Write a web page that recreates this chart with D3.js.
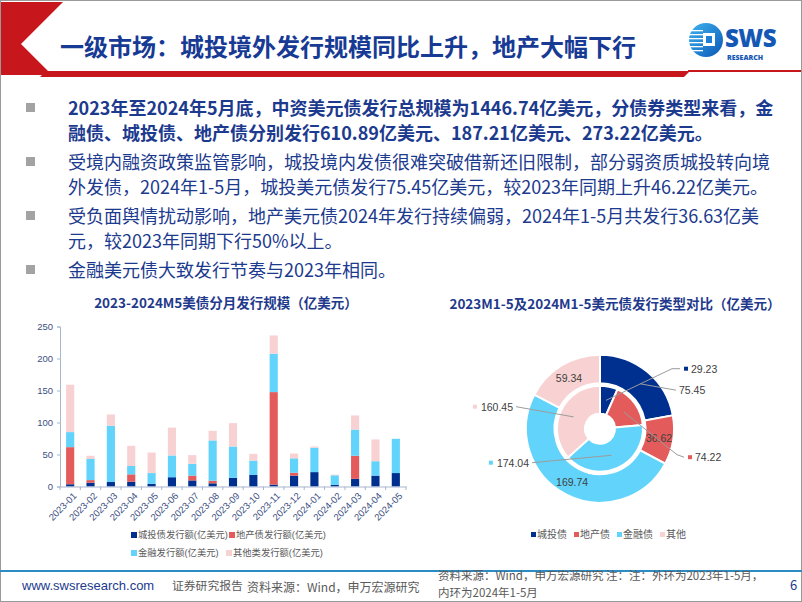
<!DOCTYPE html>
<html><head><meta charset="utf-8">
<script src="https://cdn.jsdelivr.net/npm/d3@7/dist/d3.min.js"></script>
<style>
html,body{margin:0;padding:0;background:#fff;}
svg{display:block;font-family:"Noto Sans CJK SC","Noto Sans",sans-serif;}
</style></head>
<body>
<svg id="c" width="802" height="602"></svg>
<script>
// ---------- DATA ----------
const months = ["2023-01","2023-02","2023-03","2023-04","2023-05","2023-06","2023-07","2023-08","2023-09","2023-10","2023-11","2023-12","2024-01","2024-02","2024-03","2024-04","2024-05"];
const chengtou = [3.5,6,7,7.5,4,14.5,9.5,5,13.5,18,3,17,22.5,2.5,12,17,21];
const dichan   = [58,4,0,11.5,0,0,7.5,4,0,0,144.5,4.5,0,0,36,0,0];
const jinrong  = [23.5,33,88,13,17,34,18.5,63,49,22.5,60,22.5,38,15,41,22.5,53.5];
const qita     = [74,5,17.5,31.5,32,43.5,13.5,15,36.5,10.5,28.5,7.5,2,1,22,34,0];
const yTicks = [0,50,100,150,200,250];
const barSeries = ["城投债发行额(亿美元)","地产债发行额(亿美元)","金融发行额(亿美元)","其他类发行额(亿美元)"];

const types = ["城投债","地产债","金融债","其他"];
const outerRing = [75.45,36.62,169.74,59.34];   // outer ring
const innerRing = [29.23,74.22,174.04,160.45];  // inner ring

const title = "一级市场：城投境外发行规模同比上升，地产大幅下行";
const bullets = [
  {bold:true, lines:["2023年至2024年5月底，中资美元债发行总规模为1446.74亿美元，分债券类型来看，金","融债、城投债、地产债分别发行610.89亿美元、187.21亿美元、273.22亿美元。"]},
  {bold:false, lines:["受境内融资政策监管影响，城投境内发债很难突破借新还旧限制，部分弱资质城投转向境","外发债，2024年1-5月，城投美元债发行75.45亿美元，较2023年同期上升46.22亿美元。"]},
  {bold:false, lines:["受负面舆情扰动影响，地产美元债2024年发行持续偏弱，2024年1-5月共发行36.63亿美","元，较2023年同期下行50%以上。"]},
  {bold:false, lines:["金融美元债大致发行节奏与2023年相同。"]}
];

// ---------- STYLE ----------
const colors = ["#00308f","#e35b5b","#62d3fb","#f8d1d2"];
const navyText = "#1c3a8e";
const svg = d3.select("#c");

// slide border
svg.append("rect").attr("x",0.5).attr("y",0.5).attr("width",801).attr("height",601)
  .attr("fill","none").attr("stroke","#9a9a9a");

// header decoration
svg.append("path").attr("d","M1,2 L63,2 L21,44 L52,75 L1,75 Z").attr("fill","#c8161d");
svg.append("path").attr("d","M46,71 L690,71 L684,77 L40,77 Z").attr("fill","#c8161d");
svg.append("rect").attr("x",688).attr("y",70).attr("width",113).attr("height",2).attr("fill","#c8161d");

svg.append("text").attr("x",60).attr("y",56).attr("font-size",24).attr("font-weight",700)
  .attr("fill","#173a94").text(title);

// logo
const lg = svg.append("g");
const grad = svg.append("defs").append("linearGradient").attr("id","lgg").attr("x1","0").attr("y1","0").attr("x2","1").attr("y2","1");
grad.append("stop").attr("offset","0").attr("stop-color","#3fb4ee");
grad.append("stop").attr("offset","1").attr("stop-color","#0b57b8");
lg.append("circle").attr("cx",706).attr("cy",40).attr("r",17).attr("fill","url(#lgg)");
[30,34,38,42,46,50].forEach(y=>lg.append("rect").attr("x",689).attr("y",y).attr("width",14).attr("height",1.3).attr("fill","#fff"));
lg.append("rect").attr("x",703).attr("y",33).attr("width",12).attr("height",13).attr("fill","#fff");
lg.append("rect").attr("x",706).attr("y",36).attr("width",6).attr("height",7).attr("fill","#1f7fd6");
lg.append("text").attr("x",725).attr("y",47).attr("font-size",24).attr("font-weight",800)
  .attr("font-family","'Open Sans',Roboto,sans-serif").attr("fill","#1458b6").attr("letter-spacing",-0.5).text("SWS");
lg.append("text").attr("x",727).attr("y",59.5).attr("font-size",7).attr("font-weight",800)
  .attr("font-family","'Open Sans',Roboto,sans-serif").attr("fill","#1458b6").text("RESEARCH");

// bullets
let by = 108;
bullets.forEach((b,i)=>{
  svg.append("rect").attr("x",26).attr("y",by-5).attr("width",9).attr("height",9).attr("fill","#a3a3a3");
  b.lines.forEach((ln,j)=>{
    svg.append("text").attr("x",68).attr("y",by+6.5+j*25).attr("font-size",18)
      .attr("font-weight",b.bold?700:400).attr("fill",navyText).text(ln);
  });
  by += b.lines.length*25 + 4;
});

// ---------- BAR CHART ----------
const chartFont = "'Liberation Sans',Arial,'Noto Sans CJK SC',sans-serif";
svg.append("text").attr("x",226).attr("y",308).attr("text-anchor","middle").attr("font-size",13.5)
  .attr("font-weight",700).attr("fill","#1f3a8c").text("2023-2024M5美债分月发行规模（亿美元）");

const x = d3.scaleBand().domain(months).range([60,406]).paddingInner(0.6).paddingOuter(0.3);
const y = d3.scaleLinear().domain([0,250]).range([486.5,326.5]);

const rows = months.map((m,i)=>({month:m, s0:chengtou[i], s1:dichan[i], s2:jinrong[i], s3:qita[i]}));
const stack = d3.stack().keys(["s0","s1","s2","s3"])(rows);

const gBars = svg.append("g");
stack.forEach((layer,k)=>{
  gBars.selectAll(null).data(layer).enter().append("rect")
    .attr("x",d=>x(d.data.month)).attr("width",x.bandwidth())
    .attr("y",d=>y(d[1])).attr("height",d=>Math.max(0,y(d[0])-y(d[1])))
    .attr("fill",colors[k]);
});

const yAxis = svg.append("g").attr("transform","translate(60,0)")
  .call(d3.axisLeft(y).tickValues(yTicks).tickSize(3).tickPadding(4));
yAxis.select(".domain").attr("stroke","#a9b6cf");
yAxis.selectAll(".tick line").attr("stroke","#a9b6cf");
yAxis.selectAll("text").attr("font-size",9.5).attr("font-family",chartFont).attr("fill","#3d4f82");

const xAxis = svg.append("g").attr("transform","translate(0,486.5)")
  .call(d3.axisBottom(x).tickSize(0).tickSizeOuter(0));
xAxis.select(".domain").attr("stroke","#a9b6cf");
xAxis.selectAll(".tick text").attr("font-size",9.5).attr("font-family",chartFont).attr("fill","#3d4f82")
  .attr("text-anchor","end").attr("dy",0)
  .attr("transform",function(){return "translate(5,8) rotate(-45)";});
const bounds = months.map(m=>x(m)-x.step()*x.paddingInner()/2).concat([x(months[months.length-1])+x.bandwidth()+x.step()*x.paddingInner()/2]);
svg.append("g").selectAll(null).data(bounds).enter().append("line")
  .attr("x1",d=>d).attr("x2",d=>d).attr("y1",486.5).attr("y2",490).attr("stroke","#a9b6cf");

// bar legend
const legPos = [[131,538],[229,538],[131,556],[226,556]];
barSeries.forEach((s,k)=>{
  const [lx,ly]=legPos[k];
  svg.append("rect").attr("x",lx).attr("y",ly-6).attr("width",6).attr("height",6).attr("fill",colors[k]);
  svg.append("text").attr("x",lx+7).attr("y",ly).attr("font-size",9.3).attr("fill","#595959")
    .attr("font-family",chartFont).text(s);
});

// ---------- DONUT ----------
svg.append("text").attr("x",615).attr("y",309).attr("text-anchor","middle").attr("font-size",13.5)
  .attr("font-weight",700).attr("fill","#1f3a8c").text("2023M1-5及2024M1-5美元债发行类型对比（亿美元）");

const cx=600, cy=428.7;
const pie = d3.pie().sort(null).startAngle(0).endAngle(2*Math.PI);
const arcOut = d3.arc().innerRadius(45.5).outerRadius(74);
const arcIn  = d3.arc().innerRadius(15).outerRadius(43);
const gD = svg.append("g").attr("transform",`translate(${cx},${cy})`);
const pOut = pie(outerRing), pIn = pie(innerRing);
gD.selectAll(".o").data(pOut).enter().append("path").attr("d",arcOut)
  .attr("fill",(d,i)=>colors[i]).attr("stroke","#fff").attr("stroke-width",2);
gD.selectAll(".i").data(pIn).enter().append("path").attr("d",arcIn)
  .attr("fill",(d,i)=>colors[i]).attr("stroke","#fff").attr("stroke-width",2);

const lblFont = 10.5, lblColor="#404040", lineColor="#9c9c9c";
pOut.forEach((d,i)=>{
  const c = arcOut.centroid(d);
  if(i===0){
    const lx = 79, ly = -38.5;
    gD.append("polyline").attr("points",[[c[0]+2,c[1]+1],[lx-3,ly]].join(" "))
      .attr("fill","none").attr("stroke",lineColor);
    gD.append("text").attr("x",lx).attr("y",ly+4).attr("font-size",lblFont).attr("fill",lblColor)
      .attr("font-family",chartFont).text(outerRing[i].toFixed(2));
  } else {
    gD.append("text").attr("x",c[0]).attr("y",c[1]+4).attr("text-anchor","middle").attr("font-size",lblFont)
      .attr("fill",lblColor).attr("font-family",chartFont).text(outerRing[i].toFixed(2));
  }
});
const inLayout = [
  {side:1, bend:[72,-60], end:[80,-60]},
  {side:1, bend:[77,26], end:[84,28.5]},
  {side:-1, bend:[-68,34], end:[-68,34]},
  {side:-1, bend:[-84,-22], end:[-84,-22]}
];
pIn.forEach((d,i)=>{
  const c = arcIn.centroid(d), L = inLayout[i];
  gD.append("polyline").attr("points",[c,L.bend,L.end].map(p=>p.join(",")).join(" "))
    .attr("fill","none").attr("stroke",lineColor);
  const t = gD.append("text").attr("y",L.end[1]+4).attr("font-size",lblFont).attr("fill",lblColor)
    .attr("font-family",chartFont).text(innerRing[i].toFixed(2));
  if(L.side>0){
    gD.append("rect").attr("x",L.end[0]+4).attr("y",L.end[1]-2).attr("width",4).attr("height",4).attr("fill",colors[i]);
    t.attr("x",L.end[0]+11);
  } else {
    t.attr("x",L.end[0]-3).attr("text-anchor","end");
    const w = t.node().getComputedTextLength();
    gD.append("rect").attr("x",L.end[0]-3-w-8).attr("y",L.end[1]-2).attr("width",4).attr("height",4).attr("fill",colors[i]);
  }
});

// donut legend
let lx2 = 531;
types.forEach((t,k)=>{
  svg.append("rect").attr("x",lx2).attr("y",532).attr("width",5).attr("height",5).attr("fill",colors[k]);
  const tt = svg.append("text").attr("x",lx2+6).attr("y",538).attr("font-size",10).attr("fill","#595959").text(t);
  lx2 += 6 + tt.node().getComputedTextLength() + 7;
});

// ---------- FOOTER ----------
svg.append("rect").attr("x",0).attr("y",570).attr("width",802).attr("height",2).attr("fill","#2b8cc4");
svg.append("text").attr("x",22).attr("y",590).attr("font-size",13).attr("fill","#1c3a8e")
  .attr("font-family","'Liberation Sans',Arial,sans-serif").text("www.swsresearch.com");
svg.append("text").attr("x",172).attr("y",590).attr("font-size",11.8).attr("fill","#595959").text("证券研究报告");
svg.append("text").attr("x",247).attr("y",592).attr("font-size",12).attr("fill","#595959").text("资料来源：Wind，申万宏源研究");
svg.append("text").attr("x",438).attr("y",580).attr("font-size",11.5).attr("fill","#595959").text("资料来源：Wind，申万宏源研究 注：注：外环为2023年1-5月，");
svg.append("text").attr("x",438).attr("y",597).attr("font-size",11.5).attr("fill","#595959").text("内环为2024年1-5月");
svg.append("text").attr("x",790).attr("y",590).attr("font-size",13).attr("fill","#1c3a8e").text("6");
</script>
</body></html>
